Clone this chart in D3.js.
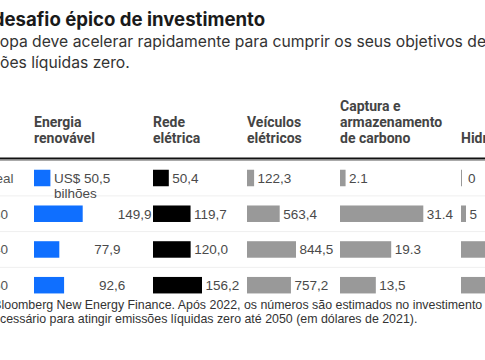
<!DOCTYPE html>
<html><head><meta charset="utf-8">
<script src="https://cdn.jsdelivr.net/npm/d3@7"></script>
<style>html,body{margin:0;padding:0;background:#fff;overflow:hidden}</style>
</head><body><svg id="c" width="485" height="360"></svg>
<script>
// ---- data ----
const rows = ["2022 real", "2030", "2040", "2050"];
const headerLines = [["Energia", "renovável"], ["Rede", "elétrica"], ["Veículos", "elétricos"], ["Captura e", "armazenamento", "de carbono"], ["Hidrogênio"]];
const renovavel = [50.5, 149.9, 77.9, 92.6];
const rede = [50.4, 119.7, 120.0, 156.2];
const veiculos = [122.3, 563.4, 844.5, 757.2];
const captura = [2.1, 31.4, 19.3, 13.5];
const hidrogenio = [0, 5, 38, 52];
const labelsRenovavel = ["US$ 50,5", "149,9", "77,9", "92,6"];
const labelsRede = ["50,4", "119,7", "120,0", "156,2"];
const labelsVeiculos = ["122,3", "563,4", "844,5", "757,2"];
const labelsCaptura = ["2.1", "31.4", "19.3", "13,5"];
const labelsHidrogenio = ["0", "5", "38", "52"];
const title = "Um desafio épico de investimento";
const subtitle = ["A Europa deve acelerar rapidamente para cumprir os seus objetivos de", "emissões líquidas zero."];
const footer = ["Fonte: Bloomberg New Energy Finance. Após 2022, os números são estimados no investimento", "necessário para atingir emissões líquidas zero até 2050 (em dólares de 2021)."];

// ---- layout ----
const svg = d3.select("#c");
const W = 485;
const colX = [34, 153, 247, 340, 461];
const colors = ["#0f6fff", "#000000", "#999999", "#999999", "#999999"];
const series = [renovavel, rede, veiculos, captura, hidrogenio];
const labels = [labelsRenovavel, labelsRede, labelsVeiculos, labelsCaptura, labelsHidrogenio];
const scales = [
  d3.scaleLinear().domain([0, 149.9]).range([0, 48.7]),
  d3.scaleLinear().domain([0, 156.2]).range([0, 49]),
  d3.scaleLinear().domain([0, 844.5]).range([0, 49]),
  d3.scaleLinear().domain([0, 31.4]).range([0, 83.3]),
  d3.scaleLinear().domain([0, 5]).range([0, 5])
];
const y = d3.scalePoint().domain(rows).range([178, 285.2]);
const barH = 16.5;

function applyStyle(sel, style) { Object.entries(style).forEach(([k, v]) => sel.style(k, v)); return sel; }
function measure(str, style) {
  const t = applyStyle(svg.append("text").text(str), style);
  const w = t.node().getComputedTextLength();
  t.remove();
  return w;
}
function clipped(full, prefix, visibleX, yy, style) {
  const w = measure(prefix, style);
  return applyStyle(svg.append("text").attr("x", visibleX - w).attr("y", yy).text(full), style);
}

// title
const titleStyle = {"font-family": "Inter", "font-weight": "700", "font-size": "18.6px", "fill": "#1a1a1a"};
clipped(title, "Um d", 4.5, 26, titleStyle);
const subStyle = {"font-family": "Inter", "font-size": "15.7px", "fill": "#333"};
clipped(subtitle[0], "A Eur", 0, 47, subStyle);
clipped(subtitle[1], "emiss", 0, 67.5, subStyle);

// headers
const headStyle = {"font-family": "Roboto", "font-weight": "700", "font-size": "14px", "fill": "#444"};
headerLines.forEach((lines, i) => {
  lines.forEach((ln, j) => {
    applyStyle(svg.append("text").attr("x", colX[i]).attr("y", 143 - (lines.length - 1 - j) * 16).text(ln), headStyle);
  });
});

// header rules
svg.append("line").attr("x1", 0).attr("x2", W).attr("y1", 158.5).attr("y2", 158.5).attr("stroke", "#111").attr("stroke-width", 2);
svg.append("line").attr("x1", 0).attr("x2", W).attr("y1", 160.5).attr("y2", 160.5).attr("stroke", "#aaa").attr("stroke-width", 1);

// row separators
for (let i = 0; i < rows.length - 1; i++) {
  const yy = (y(rows[i]) + y(rows[i + 1])) / 2;
  svg.append("line").attr("x1", 0).attr("x2", W).attr("y1", yy).attr("y2", yy).attr("stroke", "#efefef").attr("stroke-width", 1);
}

// row labels
svg.selectAll("text.row").data(rows).join("text").attr("class", "row")
  .attr("x", (d, i) => i === 0 ? 13.5 : 8).attr("y", d => y(d) + 5).attr("text-anchor", "end")
  .style("font-family", "Liberation Sans, Arial").style("font-size", "13.5px").style("fill", "#555")
  .text(d => d);

// bars and labels
const valStyle = {"font-family": "Liberation Sans, Arial", "font-size": "13.5px", "fill": "#4a4a4a"};
series.forEach((vals, c) => {
  const g = svg.append("g");
  g.selectAll("rect").data(vals).join("rect")
    .attr("x", colX[c]).attr("y", (d, i) => y(rows[i]) - barH / 2)
    .attr("width", d => Math.max(1, scales[c](d))).attr("height", barH)
    .attr("fill", colors[c]);
  g.selectAll("text").data(vals).join("text")
    .attr("x", (d, i) => colX[c] + Math.max(1, scales[c](d)) + ((c === 0 && i > 0) ? 35 : (d === 0 ? 6 : 3.5)))
    .attr("y", (d, i) => y(rows[i]) + 5)
    .text((d, i) => labels[c][i])
    .each(function () { applyStyle(d3.select(this), valStyle); });
});
// unit line under first renewable value
applyStyle(svg.append("text").attr("x", colX[0] + scales[0](renovavel[0]) + 3.5).attr("y", y(rows[0]) + 20).text("bilhões"), valStyle);

// footer
const footStyle = {"font-family": "Liberation Sans, Arial", "font-size": "12.4px", "fill": "#333"};
clipped(footer[0], "Fonte: B", 1.5, 309, footStyle);
clipped(footer[1], "ne", 0, 322.5, footStyle);
</script></body></html>
